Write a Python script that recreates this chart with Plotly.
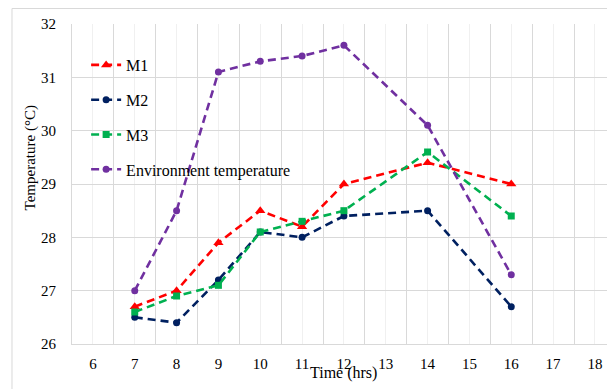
import plotly.graph_objects as go

hours = [7, 8, 9, 10, 11, 12, 14, 16]
m1 = [26.7, 27.0, 27.9, 28.5, 28.2, 29.0, 29.4, 29.0]
m2 = [26.5, 26.4, 27.2, 28.1, 28.0, 28.4, 28.5, 26.7]
m3 = [26.6, 26.9, 27.1, 28.1, 28.3, 28.5, 29.6, 28.4]
env = [27.0, 28.5, 31.1, 31.3, 31.4, 31.6, 30.1, 27.3]

series = [
    ("M1", m1, "#FF0000", "triangle-up", 9),
    ("M2", m2, "#002060", "circle", 7),
    ("M3", m3, "#00B050", "square", 7),
    ("Environment temperature", env, "#7030A0", "circle", 7),
]

FONT = "'Liberation Serif', 'Times New Roman', Times, serif"
fig = go.Figure()
for i, (name, vals, col, sym, sz) in enumerate(series):
    fig.add_trace(go.Scatter(
        x=hours, y=vals, name=name, mode="lines+markers",
        line=dict(color=col, width=2.6, dash="8px,5px"),
        marker=dict(color=col, symbol=sym, size=sz),
        legendgroup=f"g{i}",
    ))

fig.update_layout(
    width=607, height=381,
    margin=dict(l=64, r=0, t=16, b=45),
    paper_bgcolor="white", plot_bgcolor="white",
    font=dict(family=FONT, size=14, color="#000000"),
    showlegend=True,
    legend=dict(x=0.026, y=0.925, xanchor="left", yanchor="top",
                bgcolor="rgba(0,0,0,0)", font=dict(family=FONT, size=16),
                tracegroupgap=11, itemwidth=30),
    xaxis=dict(range=[5.5, 18.48], tick0=6, dtick=1, showgrid=True,
               gridcolor="#F0F0F0", gridwidth=1,
               minor=dict(tick0=5.5, dtick=0.5, showgrid=True, gridcolor="#D9D9D9", gridwidth=1),
               showline=True, linecolor="#D9D9D9", linewidth=1,
               ticks="", zeroline=False, ticklabelstandoff=6,
               tickfont=dict(family=FONT, size=15)),
    yaxis=dict(range=[26, 32], dtick=1, showgrid=True, gridcolor="#D9D9D9",
               showline=True, linecolor="#D9D9D9", ticks="", zeroline=False,
               ticklabelstandoff=12,
               tickfont=dict(family=FONT, size=15)),
)

fig.add_annotation(text="Time (hrs)", xref="paper", yref="paper", x=0.5, y=-0.09,
                   xanchor="center", yanchor="middle", showarrow=False,
                   font=dict(family=FONT, size=16))

fig.add_annotation(text="Temperature (°C)", xref="paper", yref="paper", x=-0.0773, y=0.58,
                   xanchor="center", yanchor="middle", showarrow=False, textangle=-90,
                   font=dict(family=FONT, size=15))

fig.add_shape(type="rect", xref="paper", yref="paper", x0=-0.1105, x1=1.2, y0=-0.3, y1=1.0484,
              line=dict(color="#D9D9D9", width=1), fillcolor="rgba(0,0,0,0)", layer="below")

fig.write_html("out.html")
